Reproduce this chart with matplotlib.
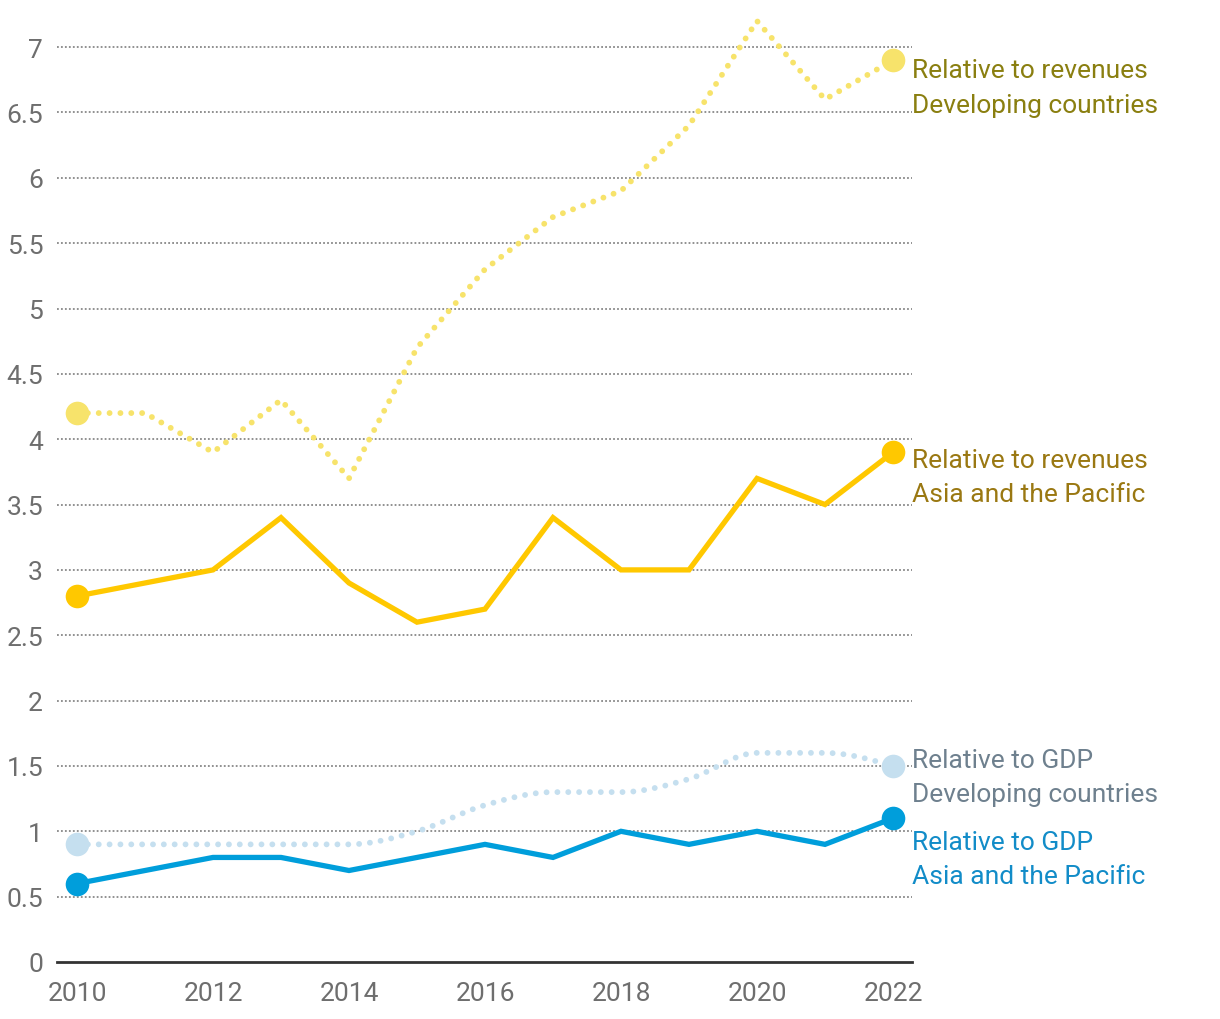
import numpy as np
import matplotlib
matplotlib.use("Agg")
import matplotlib.pyplot as plt
from matplotlib.path import Path
from matplotlib.patches import PathPatch

years = [2010, 2011, 2012, 2013, 2014, 2015, 2016, 2017, 2018, 2019, 2020, 2021, 2022]
rev_dev = [4.2, 4.2, 3.9, 4.3, 3.7, 4.7, 5.3, 5.7, 5.9, 6.4, 7.2, 6.6, 6.9]
rev_asia = [2.8, 2.9, 3.0, 3.4, 2.9, 2.6, 2.7, 3.4, 3.0, 3.0, 3.7, 3.5, 3.9]
gdp_dev = [0.9, 0.9, 0.9, 0.9, 0.9, 1.0, 1.2, 1.3, 1.3, 1.4, 1.6, 1.6, 1.5]
gdp_asia = [0.6, 0.7, 0.8, 0.8, 0.7, 0.8, 0.9, 0.8, 1.0, 0.9, 1.0, 0.9, 1.1]

yticks = [0, 0.5, 1, 1.5, 2, 2.5, 3, 3.5, 4, 4.5, 5, 5.5, 6, 6.5, 7]
ytick_labels = ["0", "0.5", "1", "1.5", "2", "2.5", "3", "3.5", "4", "4.5", "5", "5.5", "6", "6.5", "7"]
xticks = [2010, 2012, 2014, 2016, 2018, 2020, 2022]

plt.rcParams['font.family'] = ['Roboto', 'DejaVu Sans']


def monotone_path(x, y):
    # bezier path like d3.curveMonotoneX
    x = np.asarray(x, float)
    y = np.asarray(y, float)
    h = np.diff(x)
    s = np.diff(y) / h
    n = len(x)
    t = np.zeros(n)
    for i in range(1, n - 1):
        p = (s[i - 1] * h[i] + s[i] * h[i - 1]) / (h[i - 1] + h[i])
        t[i] = (np.sign(s[i - 1]) + np.sign(s[i])) * min(abs(s[i - 1]), abs(s[i]), 0.5 * abs(p))
    t[0] = (3 * s[0] - t[1]) / 2
    t[-1] = (3 * s[-1] - t[-2]) / 2
    verts = [(x[0], y[0])]
    codes = [Path.MOVETO]
    for i in range(n - 1):
        dx = h[i] / 3
        verts += [(x[i] + dx, y[i] + dx * t[i]),
                  (x[i + 1] - dx, y[i + 1] - dx * t[i + 1]),
                  (x[i + 1], y[i + 1])]
        codes += [Path.CURVE4] * 3
    return Path(verts, codes)


fig = plt.figure(figsize=(12.2, 10.2), dpi=100)
ax = fig.add_axes([57 / 1220, 1 - 963 / 1020, (912 - 57) / 1220, (963 - 15) / 1020])
ax.set_xlim(2010 - 20 / 68, 2022 + 19 / 68)
ax.set_ylim(0, 948 / 130.7)

for v in yticks[1:]:
    ax.axhline(v, color="#888888", lw=1.3, ls=(0, (1, 1.2)), zorder=1)

c_rev_dev = "#F7E36B"
c_rev_asia = "#FFC800"
c_gdp_dev = "#C5DFEF"
c_gdp_asia = "#009EDB"
dots = (0, (0.01, 1.85))

# developing countries: dotted
ax.plot(years, rev_dev, color=c_rev_dev, lw=4.2, ls=dots, dash_capstyle="round", zorder=2)
ax.add_patch(PathPatch(monotone_path(years, gdp_dev), facecolor="none", edgecolor=c_gdp_dev,
                       lw=4.2, ls=dots, capstyle="round", zorder=2))
for ys, c in [(rev_dev, c_rev_dev), (gdp_dev, c_gdp_dev)]:
    ax.plot([years[0], years[-1]], [ys[0], ys[-1]], "o", color=c, ms=17, mew=0, zorder=4)

# Asia and the Pacific: solid
for ys, c in [(rev_asia, c_rev_asia), (gdp_asia, c_gdp_asia)]:
    ax.plot(years, ys, color=c, lw=3.8, solid_joinstyle="miter", zorder=3)
    ax.plot([years[0], years[-1]], [ys[0], ys[-1]], "o", color=c, ms=17, mew=0, zorder=4)

labels = [
    ("Relative to revenues\nDeveloping countries", 6.69, "#8A7F10"),
    ("Relative to revenues\nAsia and the Pacific", 3.71, "#9A7812"),
    ("Relative to GDP\nDeveloping countries", 1.415, "#6E808E"),
    ("Relative to GDP\nAsia and the Pacific", 0.788, "#128CC8"),
]
for txt, yv, c in labels:
    ax.text(1.0, yv, txt, transform=ax.get_yaxis_transform(), ha="left", va="center",
            fontsize=19, color=c, linespacing=1.55, clip_on=False)

ax.set_yticks(yticks)
ax.set_yticklabels(ytick_labels)
ax.set_xticks(xticks)
ax.set_xticklabels([str(v) for v in xticks])
ax.tick_params(axis="both", length=0, labelsize=19, labelcolor="#6e6e6e")
ax.tick_params(axis="y", pad=10)
ax.tick_params(axis="x", pad=14)

for sp in ["top", "right", "left"]:
    ax.spines[sp].set_visible(False)
ax.spines["bottom"].set_color("#333333")
ax.spines["bottom"].set_linewidth(2)

fig.savefig("out.png", dpi=100)
